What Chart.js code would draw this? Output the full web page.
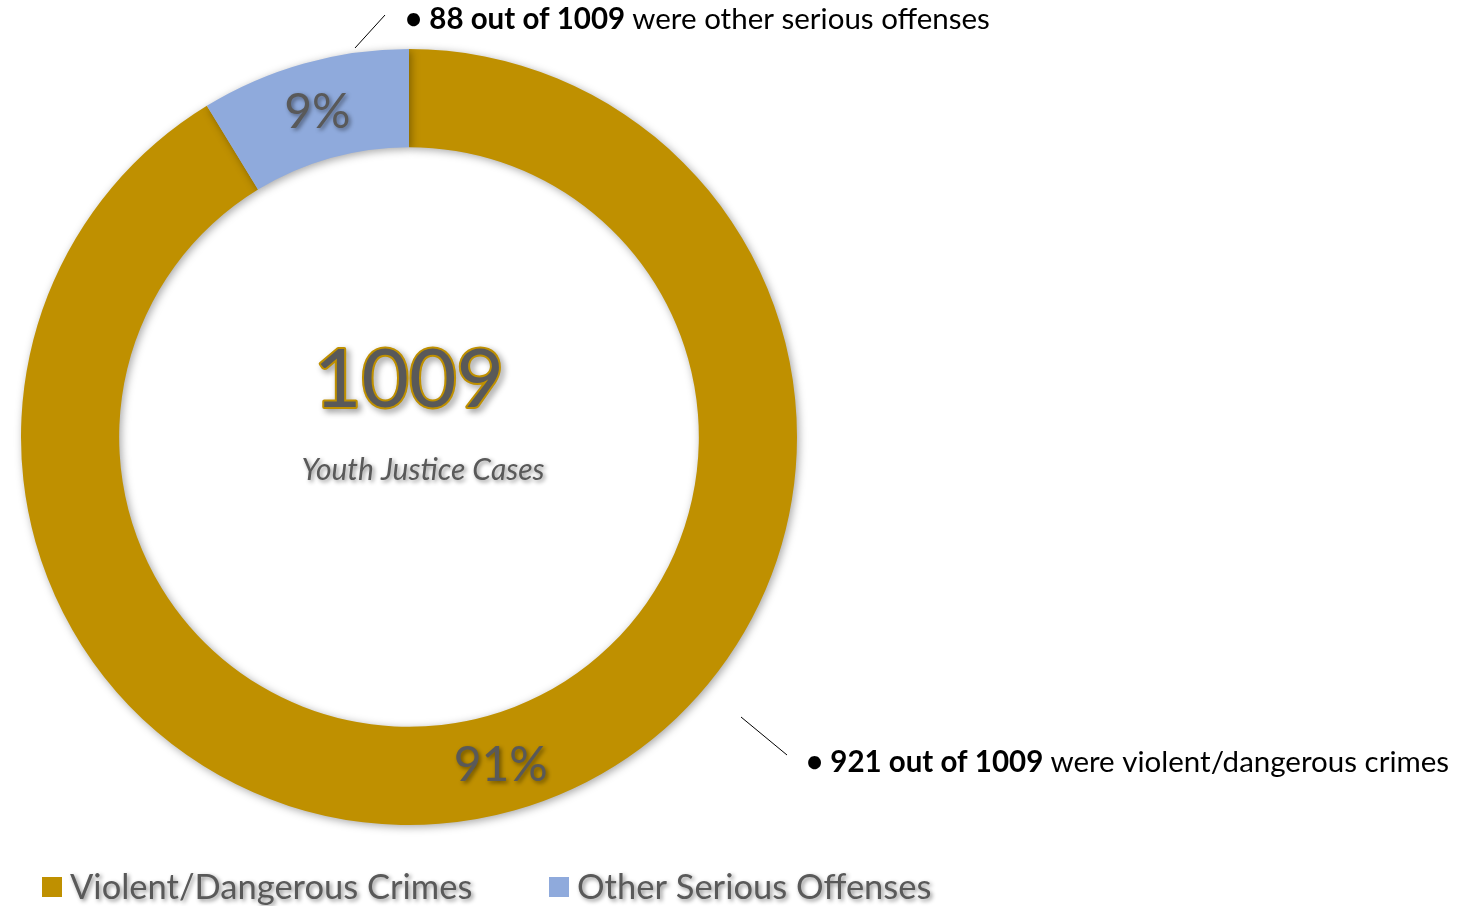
<!DOCTYPE html>
<html>
<head>
<meta charset="utf-8">
<script src="https://cdn.jsdelivr.net/npm/chart.js@4/dist/chart.umd.min.js"></script>
<style>
  html, body { margin: 0; padding: 0; background: #ffffff; }
  #wrap { position: relative; width: 1465px; height: 906px; }
</style>
</head>
<body>
<div id="wrap"><canvas id="chart" width="1465" height="906"></canvas></div>
<script>
// Case breakdown
const categories = ['Violent/Dangerous Crimes', 'Other Serious Offenses'];
const caseCounts = [921, 88];
const sliceColors = ['#BF9000', '#8FAADC'];
const calloutText = ['were violent/dangerous crimes', 'were other serious offenses'];
const centerCaption = 'Youth Justice Cases';

const totalCases = caseCounts.reduce((a, b) => a + b, 0);
const FONT = 'Lato, "Open Sans", sans-serif';
const GRAY = '#595959';

function shadowOn(ctx, blur, off) {
  ctx.shadowColor = 'rgba(0,0,0,0.45)';
  ctx.shadowBlur = blur;
  ctx.shadowOffsetX = off;
  ctx.shadowOffsetY = off;
}
function shadowOff(ctx) {
  ctx.shadowColor = 'transparent';
  ctx.shadowBlur = 0;
  ctx.shadowOffsetX = 0;
  ctx.shadowOffsetY = 0;
}

// Soft drop shadow under the ring
const ringShadow = {
  id: 'ringShadow',
  beforeDatasetsDraw(chart) {
    const ctx = chart.ctx;
    ctx.save();
    ctx.shadowColor = 'rgba(0,0,0,0.35)';
    ctx.shadowBlur = 8;
    ctx.shadowOffsetX = 2;
    ctx.shadowOffsetY = 2;
  },
  afterDatasetsDraw(chart) {
    chart.ctx.restore();
  }
};

// Percent labels, center total, callouts and legend
const annotations = {
  id: 'annotations',
  afterDraw(chart) {
    const ctx = chart.ctx;
    const meta = chart.getDatasetMeta(0);
    const arcs = meta.data;
    const cx = arcs[0].x, cy = arcs[0].y;

    // percent labels on slices
    ctx.save();
    ctx.textAlign = 'center';
    ctx.textBaseline = 'middle';
    ctx.font = '48px ' + FONT;
    arcs.forEach((arc, i) => {
      const p = arc.tooltipPosition();
      const pct = Math.round(caseCounts[i] / totalCases * 100) + '%';
      shadowOn(ctx, 4, 2);
      ctx.fillStyle = GRAY;
      ctx.fillText(pct, p.x, p.y + 2);
    });
    ctx.restore();

    // center total
    ctx.save();
    ctx.textAlign = 'center';
    ctx.textBaseline = 'alphabetic';
    ctx.font = '82px ' + FONT;
    shadowOn(ctx, 6, 3);
    ctx.lineWidth = 4;
    ctx.strokeStyle = sliceColors[0];
    ctx.lineJoin = 'round';
    ctx.strokeText(String(totalCases), cx, cy - 30);
    shadowOff(ctx);
    ctx.fillStyle = GRAY;
    ctx.fillText(String(totalCases), cx, cy - 30);
    ctx.font = 'italic 30px ' + FONT;
    shadowOn(ctx, 4, 2);
    ctx.fillText(centerCaption, cx + 14, cy + 43);
    ctx.restore();

    // callouts
    ctx.save();
    ctx.strokeStyle = '#000000';
    ctx.lineWidth = 1;
    const drawCallout = (arcIndex, lineFrom, lineTo, tx, ty) => {
      ctx.beginPath();
      ctx.moveTo(lineFrom[0], lineFrom[1]);
      ctx.lineTo(lineTo[0], lineTo[1]);
      ctx.stroke();
      const bold = '\u2022 ' + caseCounts[arcIndex] + ' out of ' + totalCases + ' ';
      ctx.textAlign = 'left';
      ctx.textBaseline = 'alphabetic';
      ctx.fillStyle = '#000000';
      ctx.font = 'bold 29.5px ' + FONT;
      ctx.fillText(bold, tx, ty);
      const w = ctx.measureText(bold).width;
      ctx.font = '29.5px ' + FONT;
      ctx.fillText(calloutText[arcIndex], tx + w, ty);
    };
    drawCallout(1, [355, 48], [385, 15], 405, 29);
    drawCallout(0, [741, 717], [787, 755], 806, 772);
    ctx.restore();

    // legend
    ctx.save();
    ctx.textAlign = 'left';
    ctx.textBaseline = 'middle';
    ctx.font = '34.5px ' + FONT;
    const legendX = [42, 549];
    categories.forEach((name, i) => {
      ctx.fillStyle = sliceColors[i];
      ctx.fillRect(legendX[i], 877, 20, 20);
      shadowOn(ctx, 4, 2);
      ctx.fillStyle = GRAY;
      ctx.fillText(name, legendX[i] + 28, 888);
      shadowOff(ctx);
    });
    ctx.restore();
  }
};

new Chart(document.getElementById('chart'), {
  type: 'doughnut',
  data: {
    labels: categories,
    datasets: [{
      data: caseCounts,
      backgroundColor: sliceColors,
      borderWidth: 0,
      hoverOffset: 0
    }]
  },
  options: {
    responsive: false,
    animation: false,
    cutout: '74.7%',
    layout: { padding: { left: 21, top: 48, right: 668, bottom: 80 } },
    plugins: {
      legend: { display: false },
      tooltip: { enabled: false }
    }
  },
  plugins: [ringShadow, annotations]
});
</script>
</body>
</html>
